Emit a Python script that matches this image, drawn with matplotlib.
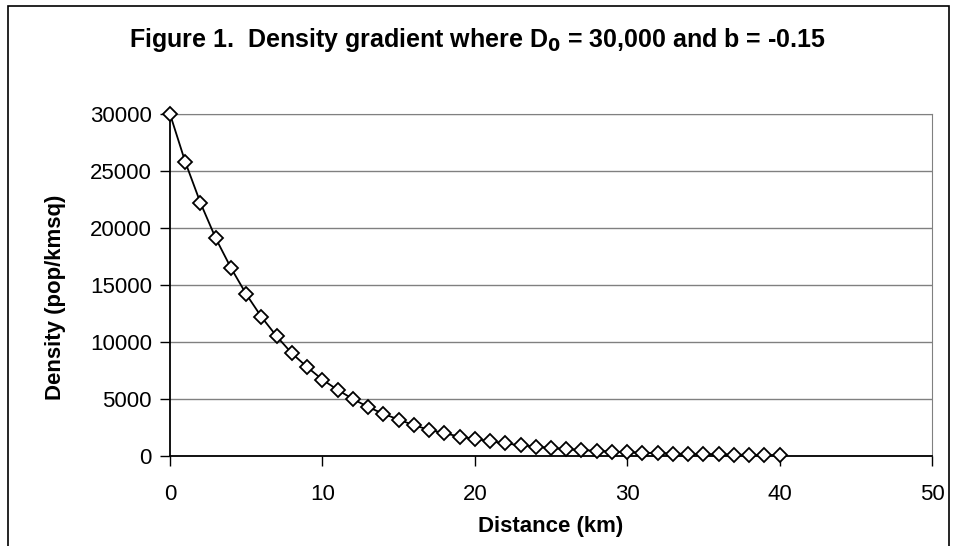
import matplotlib.pyplot as plt
from matplotlib.patches import Rectangle

plt.rcParams['font.family'] = ['Liberation Sans', 'DejaVu Sans']

# distance from centre (km) and density
distance = list(range(0, 41))
density = [30000, 25800, 22200, 19100, 16500, 14200, 12200, 10500, 9000, 7800,
           6700, 5800, 5000, 4300, 3700, 3200, 2700, 2300, 2000, 1700,
           1500, 1300, 1100, 950, 820, 700, 600, 520, 450, 390,
           330, 290, 250, 210, 180, 160, 140, 120, 100, 90, 70]

x_ticks = [0, 10, 20, 30, 40, 50]
y_ticks = [0, 5000, 10000, 15000, 20000, 25000, 30000]

fig = plt.figure(figsize=(9.56, 5.46), dpi=100)
ax = fig.add_axes([170 / 956, 1 - 456 / 546, (932 - 170) / 956, (456 - 114) / 546])

# outer chart frame, runs off the bottom edge
fig.patches.append(Rectangle((8 / 956, -0.05), (949 - 8) / 956, 1.05 - 6 / 546,
                             transform=fig.transFigure, fill=False,
                             edgecolor='black', linewidth=1.2))

ax.plot(distance, density, color='black', linewidth=1.3, marker='D',
        markersize=7.5, markerfacecolor='white', markeredgecolor='black',
        markeredgewidth=1.3, clip_on=False, zorder=3)

ax.set_xlim(0, 50)
ax.set_ylim(0, 30000)
ax.set_xticks(x_ticks)
ax.set_yticks(y_ticks)
ax.tick_params(labelsize=16, direction='out', length=7, width=1, pad=13)
ax.tick_params(axis='y', pad=6)
ax.yaxis.grid(True, color='#808080', linewidth=1)
ax.set_axisbelow(True)

for side in ['top', 'right']:
    ax.spines[side].set_color('#808080')
for side in ['left', 'bottom']:
    ax.spines[side].set_color('black')
    ax.spines[side].set_linewidth(1.3)

ax.set_xlabel('Distance (km)', fontsize=16, fontweight='bold')
ax.set_ylabel('Density (pop/kmsq)', fontsize=16, fontweight='bold')
ax.xaxis.set_label_coords(0.5, -0.174)
ax.yaxis.set_label_coords(-0.136, 0.465)

fig.text(477 / 956, 1 - 40 / 546,
         'Figure 1.  Density gradient where D$_\\mathbf{0}$ = 30,000 and b = -0.15',
         ha='center', va='center', fontsize=18, fontweight='bold')

fig.savefig('out.png', dpi=100)
